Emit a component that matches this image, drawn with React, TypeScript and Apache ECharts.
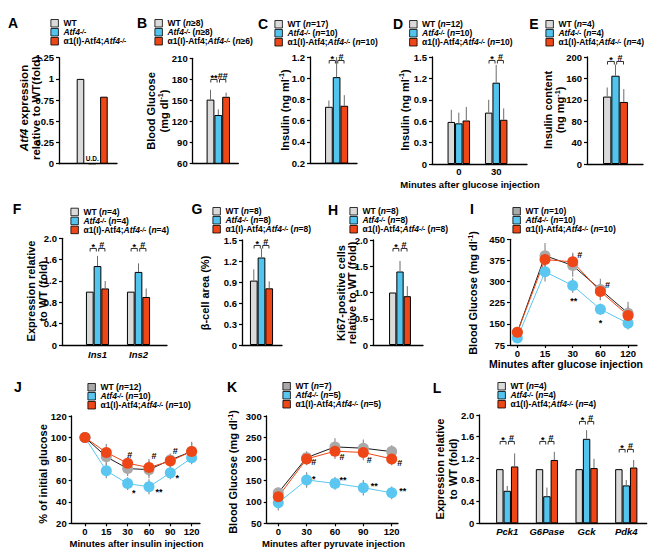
import React, { useEffect, useRef } from 'react';
import * as echarts from 'echarts';

// ================= DATA =================
// A — Atf4 expression relative to WT (fold)
const aCats = [''];
const aWT = [1.0];
const aKO = [0]; // undetected (U.D.)
const aRescue = [0.79];

// B — Blood glucose (mg/dl)
const bCats = [''];
const bWT = [151];
const bKO = [129];
const bRescue = [155];
const bWTErr = [14];
const bKOErr = [8];
const bRescueErr = [6];
const bN = ['≥8', '≥8', '≥6'];
const bSigGroups = [0];
const bSigLevels = [181];
const bSigLabels = ['**', '##'];

// C — Insulin (ng/ml)
const cCats = [''];
const cWT = [0.73];
const cKO = [1.01];
const cRescue = [0.74];
const cWTErr = [0.06];
const cKOErr = [0.19];
const cRescueErr = [0.1];
const cN = ['=17', '=10', '=10'];
const cSigGroups = [0];
const cSigLevels = [1.17];
const cSigLabels = ['*', '#'];

// D — Insulin after glucose injection (ng/ml)
const dCats = ['0', '30'];
const dWT = [0.59, 0.72];
const dKO = [0.57, 1.14];
const dRescue = [0.61, 0.62];
const dWTErr = [0.17, 0.18];
const dKOErr = [0.15, 0.25];
const dRescueErr = [0.19, 0.16];
const dN = ['=12', '=10', '=10'];
const dSigGroups = [1];
const dSigLevels = [1.46];
const dSigLabels = ['*', '#'];

// E — Insulin content (ng/mg)
const eCats = [''];
const eWT = [126];
const eKO = [165];
const eRescue = [116];
const eWTErr = [17];
const eKOErr = [21];
const eRescueErr = [24];
const eN = ['=4', '=4', '=4'];
const eSigGroups = [0];
const eSigLevels = [192];
const eSigLabels = ['*', '#'];

// F — Ins1 / Ins2 expression relative to WT
const fCats = ['Ins1', 'Ins2'];
const fWT = [1.0, 1.0];
const fKO = [1.48, 1.37];
const fRescue = [1.06, 0.9];
const fWTErr = [0, 0];
const fKOErr = [0.19, 0.16];
const fRescueErr = [0.14, 0.16];
const fN = ['=4', '=4', '=4'];
const fSigGroups = [0, 1];
const fSigLevels = [1.81, 1.81];
const fSigLabels = ['*', '#'];

// G — beta-cell area (%)
const gCats = [''];
const gWT = [0.92];
const gKO = [1.25];
const gRescue = [0.81];
const gWTErr = [0.16];
const gKOErr = [0.13];
const gRescueErr = [0.1];
const gN = ['=8', '=8', '=8'];
const gSigGroups = [0];
const gSigLevels = [1.43];
const gSigLabels = ['*', '#'];

// H — Ki67-positive cells relative to WT
const hCats = [''];
const hWT = [1.0];
const hKO = [1.4];
const hRescue = [0.93];
const hWTErr = [0];
const hKOErr = [0.2];
const hRescueErr = [0.19];
const hN = ['=8', '=8', '=8'];
const hSigGroups = [0];
const hSigLevels = [1.84];
const hSigLabels = ['*', '#'];

// I — GTT blood glucose (mg/dl)
const iMinutes = ['0', '15', '30', '60', '120'];
const iWT = [120, 392, 357, 272, 188];
const iKO = [100, 335, 286, 202, 152];
const iRescue = [120, 378, 370, 265, 180];
const iWTErr = [12, 45, 40, 38, 40];
const iKOErr = [8, 35, 26, 19, 22];
const iRescueErr = [10, 30, 32, 30, 32];
const iN = ['=10', '=10', '=10'];
const iMarkIndex = [2, 3, 2, 3];
const iMarkSeries = [1, 1, 2, 2];
const iMarkText = ['**', '*', '#', '#'];

// J — ITT % of initial glucose
const jMinutes = ['0', '15', '30', '60', '90', '120'];
const jWT = [100, 82, 71, 70, 79, 87];
const jKO = [100, 69, 57, 54, 67, 81];
const jRescue = [100, 86, 76, 72, 78, 87];
const jWTErr = [0, 8, 7, 8, 6, 8];
const jKOErr = [0, 7, 6, 7, 6, 6];
const jRescueErr = [0, 8, 6, 8, 6, 9];
const jN = ['=12', '=10', '=10'];
const jMarkIndex = [2, 3, 4, 2, 3, 4];
const jMarkSeries = [1, 1, 1, 2, 2, 2];
const jMarkText = ['*', '**', '*', '#', '#', '#'];

// K — PTT blood glucose (mg/dl)
const kMinutes = ['0', '30', '60', '90', '120'];
const kWT = [121, 203, 228, 225, 217];
const kKO = [98, 151, 143, 133, 121];
const kRescue = [112, 200, 218, 215, 200];
const kWTErr = [12, 15, 20, 20, 15];
const kKOErr = [18, 18, 15, 18, 15];
const kRescueErr = [10, 15, 18, 18, 15];
const kN = ['=7', '=5', '=5'];
const kMarkIndex = [1, 2, 3, 4, 1, 2, 3, 4];
const kMarkSeries = [1, 1, 1, 1, 2, 2, 2, 2];
const kMarkText = ['*', '**', '**', '**', '#', '#', '#', '#'];

// L — hepatic gene expression relative to WT
const lCats = ['Pck1', 'G6Pase', 'Gck', 'Pdk4'];
const lWT = [1.0, 1.0, 1.0, 1.0];
const lKO = [0.6, 0.5, 1.56, 0.7];
const lRescue = [1.05, 1.17, 1.02, 1.03];
const lWTErr = [0, 0, 0, 0];
const lKOErr = [0.09, 0.16, 0.16, 0.1];
const lRescueErr = [0.24, 0.15, 0.17, 0.14];
const lN = ['=4', '=4', '=4'];
const lSigGroups = [0, 1, 2, 3];
const lSigLevels = [1.52, 1.52, 1.88, 1.37];
const lSigLabels = ['*', '#'];

// ================= STYLE / LAYOUT =================
const FONT = '"Liberation Sans", Arial, Helvetica, sans-serif';
const BAR_FILL = ['#dadada', '#53c4ee', '#ee4616'];
const MARKER_FILL = ['#a9a9a9', '#5bc7f0', '#ee4616'];
const LINE_STROKE = ['#1a1a1a', '#5bc7f0', '#ee4616'];
const ERR_BAR = '#6b6b6b';
const ERR_LINE = '#8f8f8f';

const fmtInt = (v: number) => String(Math.round(v));
const fmt1 = (v: number) => (Math.abs(v) < 1e-9 ? '0' : v.toFixed(1));
const fmtPlain = (v: number) => String(Math.round(v * 100) / 100);

interface PanelSpec {
  id: string;
  kind: 'bar' | 'line';
  cats: string[];
  values: number[][];
  errs?: number[][];
  n?: string[];
  sig?: { groups: number[]; levels: number[]; labels: string[] };
  marks?: { idx: number[]; series: number[]; text: string[] };
  markOffsets?: number[][];
  yRange: number[];
  yFmt: (v: number) => string;
  frame: number[]; // yAxis x, xAxis end x, top y, bottom y
  box: number[]; // data grid left, width
  barWidth?: number;
  slot?: number;
  barGap?: string;
  udLabel?: boolean;
  catItalic?: boolean;
  catMargin?: number;
  legendAt: number[];
  letterAt: number[];
  yTitle: { text: string; at: number[]; size: number; lh: number };
  xTitle?: { text: string; at: number[]; size: number };
}

const GLU_TITLE = '{b|Blood Glucose (mg dl}{sup|-1}{b|)}';

const PANELS: PanelSpec[] = [
  {
    id: 'A', kind: 'bar', cats: aCats, values: [aWT, aKO, aRescue],
    yRange: [0, 1.25, 0.25], yFmt: fmtPlain,
    frame: [59, 117, 57.7, 163.7], box: [67.4, 49.6], barWidth: 7.6, slot: 11.7, barGap: '54%', udLabel: true,
    legendAt: [53, 23], letterAt: [13, 23],
    yTitle: { text: '{i|Atf4}{b| expression}\n{b|relative to WT(fold)}', at: [30, 108], size: 11.5, lh: 12.5 },
  },
  {
    id: 'B', kind: 'bar', cats: bCats, values: [bWT, bKO, bRescue], errs: [bWTErr, bKOErr, bRescueErr], n: bN,
    sig: { groups: bSigGroups, levels: bSigLevels, labels: bSigLabels },
    yRange: [60, 210, 30], yFmt: fmtInt,
    frame: [192.7, 238.3, 58.3, 163.3], box: [198.3, 40], barWidth: 7.8, slot: 7.8,
    legendAt: [157, 23], letterAt: [142, 23],
    yTitle: { text: '{b|Blood Glucose}\n{b|(mg dl}{sup|-1}{b|)}', at: [157.5, 111], size: 11, lh: 12.5 },
  },
  {
    id: 'C', kind: 'bar', cats: cCats, values: [cWT, cKO, cRescue], errs: [cWTErr, cKOErr, cRescueErr], n: cN,
    sig: { groups: cSigGroups, levels: cSigLevels, labels: cSigLabels },
    yRange: [0.2, 1.2, 0.2], yFmt: fmt1,
    frame: [310, 357, 57, 163], box: [316.6, 40], barWidth: 7.7, slot: 7.7,
    legendAt: [277, 24], letterAt: [263, 24],
    yTitle: { text: '{b|Insulin (ng ml}{sup|-1}{b|)}', at: [285, 110], size: 11, lh: 12.5 },
  },
  {
    id: 'D', kind: 'bar', cats: dCats, values: [dWT, dKO, dRescue], errs: [dWTErr, dKOErr, dRescueErr], n: dN,
    sig: { groups: dSigGroups, levels: dSigLevels, labels: dSigLabels },
    yRange: [0, 1.5, 0.3], yFmt: fmt1,
    frame: [432, 527, 57, 164], box: [440.1, 74.8], barWidth: 7.5, slot: 7.5, catMargin: 2.5,
    legendAt: [411.7, 24], letterAt: [398, 24],
    yTitle: { text: '{b|Insulin (ng ml}{sup|-1}{b|)}', at: [405, 110], size: 11, lh: 12.5 },
    xTitle: { text: 'Minutes after glucose injection', at: [470, 184], size: 9.5 },
  },
  {
    id: 'E', kind: 'bar', cats: eCats, values: [eWT, eKO, eRescue], errs: [eWTErr, eKOErr, eRescueErr], n: eN,
    sig: { groups: eSigGroups, levels: eSigLevels, labels: eSigLabels },
    yRange: [0, 200, 40], yFmt: fmtInt,
    frame: [587, 643, 57, 164], box: [595.5, 40], barWidth: 8.3, slot: 8.3,
    legendAt: [548, 24], letterAt: [534, 24],
    yTitle: { text: '{b|Insulin content}\n{b|(ng mg}{sup|-1}{b|)}', at: [554, 110], size: 11, lh: 12.5 },
  },
  {
    id: 'F', kind: 'bar', cats: fCats, values: [fWT, fKO, fRescue], errs: [fWTErr, fKOErr, fRescueErr], n: fN,
    sig: { groups: fSigGroups, levels: fSigLevels, labels: fSigLabels },
    yRange: [0, 2, 0.4], yFmt: fmt1,
    frame: [62, 167, 238.3, 345], box: [77, 82], barWidth: 7.7, slot: 7.7, catItalic: true, catMargin: 4,
    legendAt: [73, 211.7], letterAt: [17, 209],
    yTitle: { text: '{b|Expression relative}\n{b|to WT (fold)}', at: [37, 291], size: 11, lh: 11.5 },
  },
  {
    id: 'G', kind: 'bar', cats: gCats, values: [gWT, gKO, gRescue], errs: [gWTErr, gKOErr, gRescueErr], n: gN,
    sig: { groups: gSigGroups, levels: gSigLevels, labels: gSigLabels },
    yRange: [0, 1.5, 0.3], yFmt: fmt1,
    frame: [242, 282, 240, 345], box: [241.5, 40], barWidth: 7.7, slot: 7.7,
    legendAt: [215, 211], letterAt: [197, 209],
    yTitle: { text: '{b|β-cell area (%)}', at: [205, 293], size: 11, lh: 12.5 },
  },
  {
    id: 'H', kind: 'bar', cats: hCats, values: [hWT, hKO, hRescue], errs: [hWTErr, hKOErr, hRescueErr], n: hN,
    sig: { groups: hSigGroups, levels: hSigLevels, labels: hSigLabels },
    yRange: [0, 2, 0.5], yFmt: fmt1,
    frame: [373, 423, 240, 345], box: [380, 40], barWidth: 7.3, slot: 7.3,
    legendAt: [352, 211], letterAt: [333, 210],
    yTitle: { text: '{b|Ki67-positive cells}\n{b|relative to WT (fold)}', at: [346.5, 293], size: 11, lh: 11.5 },
  },
  {
    id: 'I', kind: 'line', cats: iMinutes, values: [iWT, iKO, iRescue], errs: [iWTErr, iKOErr, iRescueErr], n: iN,
    marks: { idx: iMarkIndex, series: iMarkSeries, text: iMarkText },
    markOffsets: [[1, 13], [0, 12], [7, -7], [7, -6]],
    yRange: [75, 450, 75], yFmt: fmtInt,
    frame: [510, 637, 239.3, 345], box: [503.5, 138.4], catMargin: 3,
    legendAt: [515, 211], letterAt: [472, 209],
    yTitle: { text: GLU_TITLE, at: [473.3, 293], size: 11, lh: 12.5 },
    xTitle: { text: 'Minutes after glucose injection', at: [566, 364], size: 10.5 },
  },
  {
    id: 'J', kind: 'line', cats: jMinutes, values: [jWT, jKO, jRescue], errs: [jWTErr, jKOErr, jRescueErr], n: jN,
    marks: { idx: jMarkIndex, series: jMarkSeries, text: jMarkText },
    markOffsets: [[6, 7], [10, 3], [7, 3], [2, -8], [5, -12], [5, -10]],
    yRange: [20, 120, 20], yFmt: fmtInt,
    frame: [71.7, 200, 416, 523.3], box: [74.3, 128], catMargin: 3,
    legendAt: [90, 387], letterAt: [18, 387],
    yTitle: { text: '{b|% of initial glucose}', at: [42.7, 474], size: 11, lh: 12.5 },
    xTitle: { text: 'Minutes after insulin injection', at: [136.5, 543], size: 9.5 },
  },
  {
    id: 'K', kind: 'line', cats: kMinutes, values: [kWT, kKO, kRescue], errs: [kWTErr, kKOErr, kRescueErr], n: kN,
    marks: { idx: kMarkIndex, series: kMarkSeries, text: kMarkText },
    markOffsets: [[7, -3], [8, -5], [11, -4], [11, -4], [7, 3], [7, 6], [6, 8], [8, 4]],
    yRange: [50, 300, 50], yFmt: fmtInt,
    frame: [266.7, 398, 416, 523.3], box: [264.1, 141.75], catMargin: 3,
    legendAt: [285, 386], letterAt: [232, 387],
    yTitle: { text: GLU_TITLE, at: [233.3, 472], size: 11, lh: 12.5 },
    xTitle: { text: 'Minutes after pyruvate injection', at: [333.5, 543], size: 9.5 },
  },
  {
    id: 'L', kind: 'bar', cats: lCats, values: [lWT, lKO, lRescue], errs: [lWTErr, lKOErr, lRescueErr], n: lN,
    sig: { groups: lSigGroups, levels: lSigLevels, labels: lSigLabels },
    yRange: [0, 2, 0.4], yFmt: fmt1,
    frame: [479.3, 646.7, 415, 523.3], box: [487.4, 158.7], barWidth: 7.4, slot: 7.4, catItalic: true, catMargin: 3,
    legendAt: [500, 386], letterAt: [437, 388],
    yTitle: { text: '{b|Expression relative}\n{b|to WT (fold)}', at: [446.3, 469], size: 11, lh: 12.5 },
  },
];

// ================= HELPERS =================
function legendText(k: number, n?: string) {
  const np = n ? `{b| (}{i|n}{b|${n})}` : '';
  if (k === 0) return `{b|WT}${np}`;
  if (k === 1) return `{i|Atf4}{sup|-/-}${np}`;
  return `{b|α1(I)-Atf4;}{i|Atf4}{sup|-/-}${np}`;
}

const LEG_SIZE = 8.5;
const legendRich = {
  b: { fontSize: LEG_SIZE, fontFamily: FONT, fontWeight: 'bold', color: '#000', lineHeight: 8.5 },
  i: { fontSize: LEG_SIZE, fontFamily: FONT, fontWeight: 'bold', fontStyle: 'italic', color: '#000', lineHeight: 8.5 },
  sup: { fontSize: 6.5, fontFamily: FONT, fontWeight: 'bold', fontStyle: 'italic', color: '#000', verticalAlign: 'top' },
};

function gRich(size: number, lh: number) {
  return {
    b: { fontSize: size, fontFamily: FONT, fontWeight: 'bold', fill: '#000', lineHeight: lh },
    i: { fontSize: size, fontFamily: FONT, fontWeight: 'bold', fontStyle: 'italic', fill: '#000', lineHeight: lh },
    sup: { fontSize: size * 0.65, fontFamily: FONT, fontWeight: 'bold', fill: '#000', verticalAlign: 'top' },
  };
}

function barErrSeries(p: PanelSpec, ai: number) {
  const data: number[][] = [];
  (p.errs || []).forEach((arr, k) =>
    arr.forEach((e, ci) => {
      if (e > 0) data.push([ci, p.values[k][ci], e, k - 1]);
    })
  );
  return {
    type: 'custom', xAxisIndex: ai, yAxisIndex: ai, silent: true, z: 3,
    encode: { x: 0, y: 1 },
    data,
    renderItem: (_params: any, api: any) => {
      const base = api.coord([api.value(0), api.value(1)]);
      const top = api.coord([api.value(0), api.value(1) + api.value(2)]);
      const x = base[0] + api.value(3) * (p.slot as number);
      return {
        type: 'line',
        shape: { x1: x, y1: base[1], x2: x, y2: top[1] },
        style: { stroke: ERR_BAR, lineWidth: 1 },
      };
    },
  };
}

function sigSeries(p: PanelSpec, ai: number) {
  const sig = p.sig!;
  const data: number[][] = [];
  sig.groups.forEach((g, j) => {
    data.push([g, sig.levels[j], -1, 0, 0]);
    data.push([g, sig.levels[j], 0, 1, 1]);
  });
  return {
    type: 'custom', xAxisIndex: ai, yAxisIndex: ai, silent: true, z: 4,
    encode: { x: 0, y: 1 },
    data,
    renderItem: (_params: any, api: any) => {
      const c = api.coord([api.value(0), api.value(1)]);
      const a = api.value(2);
      const b = api.value(3);
      const sp = p.slot as number;
      const xa = c[0] + a * sp + (a === 0 ? 1.2 : 0.3);
      const xb = c[0] + b * sp - (b === 0 ? 1.2 : 0.3);
      const y = Math.round(c[1]) + 0.5;
      const label = sig.labels[api.value(4)];
      const star = label.indexOf('*') >= 0;
      return {
        type: 'group',
        children: [
          {
            type: 'polyline',
            shape: { points: [[xa, y + 3], [xa, y], [xb, y], [xb, y + 3]] },
            style: { stroke: '#000', lineWidth: 0.8, fill: 'none' },
          },
          {
            type: 'text', x: (xa + xb) / 2, y: y - 4 + (star ? 2 : 0),
            style: { text: label, fontSize: 9, fontWeight: 'bold', fontFamily: FONT, fill: '#000', align: 'center', verticalAlign: 'middle' },
          },
        ],
      };
    },
  };
}

function lineErrSeries(p: PanelSpec, ai: number) {
  const data: number[][] = [];
  (p.errs || []).forEach((arr, k) =>
    arr.forEach((e, ci) => {
      if (e > 0) data.push([ci, p.values[k][ci], e]);
    })
  );
  return {
    type: 'custom', xAxisIndex: ai, yAxisIndex: ai, silent: true, z: 2,
    encode: { x: 0, y: 1 },
    data,
    renderItem: (_params: any, api: any) => {
      const lo = api.coord([api.value(0), api.value(1) - api.value(2)]);
      const hi = api.coord([api.value(0), api.value(1) + api.value(2)]);
      return {
        type: 'line',
        shape: { x1: lo[0], y1: lo[1], x2: hi[0], y2: hi[1] },
        style: { stroke: ERR_LINE, lineWidth: 1.2 },
      };
    },
  };
}

function markSeries(p: PanelSpec, ai: number) {
  const mk = p.marks!;
  const data = mk.idx.map((ix, m) => [ix, p.values[mk.series[m]][ix], m]);
  return {
    type: 'custom', xAxisIndex: ai, yAxisIndex: ai, silent: true, z: 5,
    encode: { x: 0, y: 1 },
    data,
    renderItem: (_params: any, api: any) => {
      const m = api.value(2);
      const c = api.coord([api.value(0), api.value(1)]);
      const off = (p.markOffsets as number[][])[m];
      const t = mk.text[m];
      return {
        type: 'text',
        x: c[0] + off[0],
        y: c[1] + off[1] + (t.indexOf('*') >= 0 ? 2 : 0),
        style: { text: t, fontSize: 9, fontWeight: 'bold', fontFamily: FONT, fill: '#000', align: 'center', verticalAlign: 'middle' },
      };
    },
  };
}

function buildOption(): any {
  const grid: any[] = [];
  const xAxis: any[] = [];
  const yAxis: any[] = [];
  const series: any[] = [];
  const legend: any[] = [];
  const elements: any[] = [];

  PANELS.forEach((p, pi) => {
    const fi = pi * 2;
    const di = fi + 1;
    const [x0, x1, top, bottom] = p.frame;
    const h = bottom - top;
    const [ymin, ymax, yint] = p.yRange;

    grid.push({ left: x0, top, width: x1 - x0, height: h, containLabel: false, outerBoundsMode: 'none' });
    grid.push({ left: p.box[0], top, width: p.box[1], height: h, containLabel: false, outerBoundsMode: 'none' });

    // frame axes (visible y axis, x axis line)
    xAxis.push({
      gridIndex: fi, type: 'value', min: 0, max: 1,
      axisLine: { show: true, onZero: false, lineStyle: { color: '#000', width: 1.3 } },
      axisTick: { show: false }, axisLabel: { show: false }, splitLine: { show: false },
    });
    yAxis.push({
      gridIndex: fi, type: 'value', min: ymin, max: ymax, interval: yint,
      axisLine: { show: true, onZero: false, lineStyle: { color: '#000', width: 1.3 } },
      axisTick: { show: true, length: 3, lineStyle: { color: '#000', width: 1.2 } },
      axisLabel: {
        margin: 5, fontSize: 9.5, fontWeight: 'bold', fontFamily: FONT, color: '#000',
        formatter: (v: number) => p.yFmt(v),
      },
      splitLine: { show: false },
    });
    // data axes (category positions, hidden value scale)
    xAxis.push({
      gridIndex: di, type: 'category', data: p.cats, boundaryGap: true,
      axisLine: { show: false },
      axisTick: { show: p.kind === 'line', alignWithLabel: true, length: 3, interval: 0, lineStyle: { color: '#000', width: 1.2 } },
      axisLabel: {
        show: true, interval: 0, margin: p.catMargin ?? 4, fontSize: 9.5, fontWeight: 'bold',
        fontStyle: p.catItalic ? 'italic' : 'normal', fontFamily: FONT, color: '#000',
      },
      splitLine: { show: false },
    });
    yAxis.push({ gridIndex: di, type: 'value', min: ymin, max: ymax, show: false, splitLine: { show: false } });

    if (p.kind === 'bar') {
      p.values.forEach((vals, k) => {
        const s: any = {
          type: 'bar', name: `${p.id}${k}`, xAxisIndex: di, yAxisIndex: di, data: vals,
          barWidth: p.barWidth, barGap: p.barGap ?? '0%',
          itemStyle: { color: BAR_FILL[k], borderColor: '#000', borderWidth: 1 },
          silent: true, z: 2,
        };
        if (p.udLabel && k === 1) {
          s.label = {
            show: true, position: 'top', distance: 1.5, formatter: 'U.D.',
            fontSize: 6.5, fontFamily: FONT, fontWeight: 'bold', color: '#000',
          };
        }
        series.push(s);
      });
      if (p.errs) series.push(barErrSeries(p, di));
      if (p.sig) series.push(sigSeries(p, di));
    } else {
      if (p.errs) series.push(lineErrSeries(p, di));
      [1, 0, 2].forEach((k) => {
        series.push({
          type: 'line', name: `${p.id}${k}`, xAxisIndex: di, yAxisIndex: di, data: p.values[k],
          symbol: 'circle', symbolSize: 11, showSymbol: true, showAllSymbol: true,
          itemStyle: { color: MARKER_FILL[k] },
          lineStyle: { color: LINE_STROKE[k], width: 1 },
          silent: true, z: 3,
        });
      });
      if (p.marks) series.push(markSeries(p, di));
    }

    const fills = p.kind === 'bar' ? BAR_FILL : MARKER_FILL;
    legend.push({
      orient: 'vertical', left: p.legendAt[0] - 2.5, top: p.legendAt[1] - 4.25,
      padding: 0, itemGap: 0, itemWidth: 7.5, itemHeight: 7.5, icon: 'rect', selectedMode: false,
      data: [0, 1, 2].map((k) => ({
        name: `${p.id}${k}`,
        itemStyle: { color: fills[k], borderColor: '#000', borderWidth: 0.8 },
      })),
      formatter: (name: string) => legendText(Number(name.slice(1)), p.n ? p.n[Number(name.slice(1))] : undefined),
      textStyle: { fontSize: LEG_SIZE, fontFamily: FONT, fontWeight: 'bold', color: '#000', lineHeight: 8.5, rich: legendRich },
    });

    elements.push({
      type: 'text', x: p.letterAt[0], y: p.letterAt[1], silent: true,
      style: { text: p.id, fontSize: 14, fontWeight: 'bold', fontFamily: FONT, fill: '#000', align: 'center', verticalAlign: 'middle' },
    });
    elements.push({
      type: 'text', x: p.yTitle.at[0], y: p.yTitle.at[1], rotation: Math.PI / 2, silent: true,
      style: {
        text: p.yTitle.text, align: 'center', verticalAlign: 'middle',
        fontSize: p.yTitle.size, fontFamily: FONT, fontWeight: 'bold', fill: '#000', lineHeight: p.yTitle.lh,
        rich: gRich(p.yTitle.size, p.yTitle.lh),
      },
    });
    if (p.xTitle) {
      elements.push({
        type: 'text', x: p.xTitle.at[0], y: p.xTitle.at[1], silent: true,
        style: {
          text: p.xTitle.text, align: 'center', verticalAlign: 'middle',
          fontSize: p.xTitle.size, fontFamily: FONT, fontWeight: 'bold', fill: '#000',
        },
      });
    }
  });

  return {
    animation: false,
    backgroundColor: '#ffffff',
    grid, xAxis, yAxis, series, legend,
    graphic: { elements },
  };
}

export default function App() {
  const ref = useRef<HTMLDivElement>(null);
  useEffect(() => {
    if (!ref.current) return;
    const chart = echarts.init(ref.current, undefined, { renderer: 'svg' });
    chart.setOption(buildOption());
    return () => {
      chart.dispose();
    };
  }, []);
  return (
    <div
      ref={ref}
      style={{ position: 'fixed', left: 0, top: 0, width: 659, height: 554, background: '#fff' }}
    />
  );
}
